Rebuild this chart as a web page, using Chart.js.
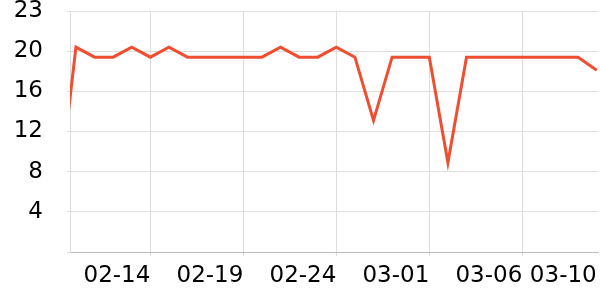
<!DOCTYPE html>
<html>
<head>
<meta charset="utf-8">
<script src="https://cdn.jsdelivr.net/npm/chart.js@4/dist/chart.umd.min.js"></script>
<style>
	html, body { margin: 0; padding: 0; background: #fff; }
	canvas { display: block; }
</style>
</head>
<body>
<canvas id="lineChart" width="600" height="300"></canvas>
<script>
"use strict"

// DATA -----------------------
const dates = [
	"02-09", "02-10", "02-11", "02-12", "02-13", "02-14", "02-15", "02-16",
	"02-17", "02-18", "02-19", "02-20", "02-21", "02-22", "02-23", "02-24",
	"02-25", "02-26", "02-27", "02-28", "03-01", "03-02", "03-03", "03-04",
	"03-05", "03-06", "03-07", "03-08", "03-09", "03-10",
]

const values = [
	4.5, 20.4, 19.4, 19.4, 20.4, 19.4, 20.4, 19.4,
	19.4, 19.4, 19.4, 19.4, 20.4, 19.4, 19.4, 20.4,
	19.4, 13.1, 19.4, 19.4, 19.4, 8.9, 19.4, 19.4,
	19.4, 19.4, 19.4, 19.4, 19.4, 18.1,
]

const xTickLabels = ["02-14", "02-19", "02-24", "03-01", "03-06", "03-10"]
const yTicks = [0, 4, 8, 12, 16, 20, 24]
const yTickLabels = ["", "4", "8", "12", "16", "20", "23"]

// CHART -----------------------
const font = { family: "'DejaVu Sans', sans-serif", size: 23 }

new Chart(document.getElementById("lineChart").getContext("2d"), {
	type: "line",
	data: {
		datasets: [
			{
				data: values.map((v, i) => ({ x: i, y: v })),
				borderColor: "#f04e30",
				borderWidth: 3,
				pointRadius: 0,
				tension: 0,
				fill: false,
				clip: 0,
			},
		],
	},
	options: {
		responsive: false,
		animation: false,
		devicePixelRatio: 1,
		layout: { padding: { top: 11, right: 2, left: 0, bottom: 0 } },
		plugins: { legend: { display: false }, tooltip: { enabled: false } },
		scales: {
			x: {
				type: "linear",
				min: 0.68,
				max: 29.07,
				afterBuildTicks: (s) => {
					s.ticks = xTickLabels.map((l) => ({ value: dates.indexOf(l) }))
				},
				afterFit: (s) => {
					s.height = 48
					s.paddingLeft = 0
					s.paddingRight = 0
				},
				ticks: {
					callback: (v) => dates[v],
					align: "end",
					maxRotation: 0,
					autoSkip: false,
					color: "#000",
					font: font,
					padding: 6,
				},
				grid: {
					// last tick sits on the right edge, no line drawn there
					color: (ctx) => (ctx.index == xTickLabels.length - 1 ? "rgba(0,0,0,0)" : "#dddddd"),
					tickLength: 4,
				},
				border: { color: "#bbbbbb" },
			},
			y: {
				min: 0,
				max: 24,
				afterBuildTicks: (s) => {
					s.ticks = yTicks.map((v) => ({ value: v }))
				},
				afterFit: (s) => {
					s.width = 70
					s.paddingTop = 0
					s.paddingBottom = 0
				},
				ticks: {
					callback: (v) => yTickLabels[yTicks.indexOf(v)],
					color: "#000",
					font: font,
					padding: 24,
				},
				grid: { color: "#dddddd", tickLength: 3 },
				border: { color: "#dddddd" },
			},
		},
	},
})
</script>
</body>
</html>
